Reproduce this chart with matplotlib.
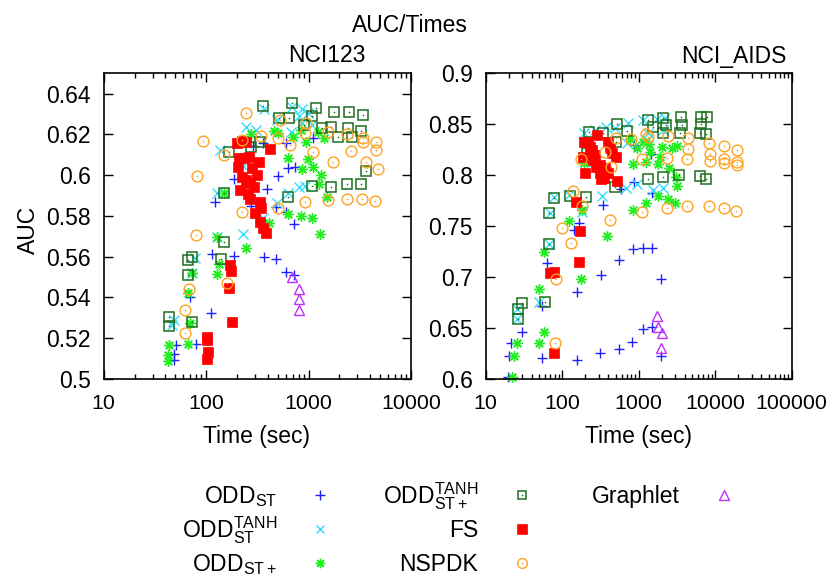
import matplotlib
matplotlib.use('Agg')
import matplotlib.pyplot as plt
from matplotlib.ticker import FixedLocator, LogLocator, NullFormatter, FuncFormatter

plt.rcParams['font.family'] = ['Liberation Sans', 'DejaVu Sans']
plt.rcParams['mathtext.fontset'] = 'custom'
plt.rcParams['mathtext.rm'] = 'Liberation Sans'
plt.rcParams['mathtext.it'] = 'Liberation Sans'
plt.rcParams['mathtext.bf'] = 'Liberation Sans:bold'

# ---------------- data: NCI123 ----------------
n123_st_t = [51, 49, 49, 80, 112, 70, 72, 114, 185, 122, 185, 275, 396, 508, 636, 739, 599, 362,
             1116, 604, 722, 371, 482, 599, 728, 478, 285]
n123_st_auc = [0.5167, 0.5123, 0.5093, 0.517, 0.5325, 0.5404, 0.5522, 0.5612, 0.5605, 0.5867, 0.5981,
               0.5849, 0.5931, 0.5996, 0.6034, 0.6039, 0.6156, 0.6156, 0.6181, 0.5821, 0.5761, 0.5597,
               0.5589, 0.5523, 0.551, 0.5846, 0.6145]

n123_tanh_t = [49, 46, 77, 72, 127, 137, 127, 228, 244, 308, 371, 489, 489, 636, 815, 925, 685, 859,
               809, 997, 1083, 871, 670, 357, 231]
n123_tanh_auc = [0.529, 0.5265, 0.5595, 0.5518, 0.5914, 0.6124, 0.5698, 0.571, 0.6238, 0.6221, 0.6323,
                 0.6271, 0.5862, 0.5911, 0.5944, 0.5947, 0.6336, 0.6323, 0.629, 0.6304, 0.6247, 0.6258,
                 0.6214, 0.5788, 0.6047]

n123_stp_t = [43.5, 42.8, 42.2, 67, 69, 67, 72, 127, 129, 134, 244, 273, 460, 508, 636, 711, 845, 939,
              997, 1116, 859, 1326, 1267, 1529, 636, 845, 1092, 1297, 412, 1248, 1429, 150]
n123_stp_auc = [0.5165, 0.5118, 0.509, 0.517, 0.5273, 0.542, 0.5522, 0.5698, 0.5515, 0.5564, 0.5641,
                0.6202, 0.6218, 0.6209, 0.6086, 0.6189, 0.6221, 0.6165, 0.6078, 0.6042, 0.6029, 0.6001,
                0.5957, 0.5895, 0.581, 0.5801, 0.5788, 0.571, 0.5767, 0.6214, 0.6181, 0.5914]

n123_stpt_t = [43.8, 43.5, 72, 66, 72, 66, 141, 150, 150, 168, 275, 337, 362, 516, 646, 695, 912, 1092,
               1176, 1346, 1660, 1790, 1959, 2416, 2509, 2641, 3258, 3381, 3620, 3258, 2382, 1660, 1083, 636]
n123_stpt_auc = [0.5306, 0.5262, 0.5281, 0.5582, 0.56, 0.551, 0.5589, 0.5674, 0.5914, 0.6115, 0.614,
                 0.6161, 0.634, 0.6282, 0.6282, 0.6353, 0.6247, 0.629, 0.6328, 0.6233, 0.6238, 0.6312,
                 0.6189, 0.623, 0.6312, 0.6189, 0.6218, 0.6295, 0.6022, 0.5957, 0.5955, 0.5944, 0.5947, 0.5895]

n123_fs_t = [101, 101, 104, 101, 179, 166, 175, 171, 199, 223, 246, 421, 211, 236, 263, 326, 204, 279,
             312, 226, 246, 269, 296, 214, 255, 270, 337, 344, 301, 337, 362, 385]
n123_fs_auc = [0.5208, 0.5191, 0.5134, 0.5096, 0.5281, 0.5445, 0.5532, 0.5559, 0.616, 0.6168, 0.6165,
               0.6129, 0.6083, 0.6083, 0.6091, 0.6063, 0.6042, 0.6034, 0.6001, 0.5993, 0.5976, 0.596,
               0.594, 0.5927, 0.5908, 0.5882, 0.587, 0.5841, 0.5813, 0.5772, 0.5743, 0.5718]

n123_nspdk_t = [94, 82, 80, 62, 62, 68, 159, 150, 223, 223, 246, 344, 527, 500, 661, 508, 925, 939, 925,
                1099, 1540, 1563, 1750, 2361, 2361, 2600, 3381, 3381, 3357, 3647, 4530, 4530, 4808, 4500]
n123_nspdk_auc = [0.6168, 0.5994, 0.5708, 0.5339, 0.5227, 0.544, 0.5473, 0.6099, 0.6173, 0.5818, 0.6304,
                  0.6194, 0.6271, 0.6181, 0.6148, 0.5841, 0.5868, 0.6254, 0.6205, 0.6115, 0.5878, 0.6214,
                  0.6066, 0.6202, 0.5883, 0.6119, 0.6165, 0.6184, 0.5883, 0.6066, 0.6161, 0.6124, 0.603, 0.5873]

n123_graphlet_t = [685, 809, 809, 809]
n123_graphlet_auc = [0.5499, 0.544, 0.5393, 0.5339]

# ---------------- data: NCI_AIDS ----------------
aids_st_t = [19.8, 20.2, 21.2, 30.1, 55, 64, 55, 155, 158, 144, 168, 318, 312, 558, 558, 826, 834, 1150,
             1150, 1509, 1509, 1941, 1941, 339, 580, 869, 1509, 1449, 877]
aids_st_auc = [0.6023, 0.6226, 0.635, 0.6465, 0.6716, 0.7142, 0.6203, 0.6186, 0.685, 0.7462, 0.7528,
               0.702, 0.6252, 0.7168, 0.6291, 0.6366, 0.7272, 0.6487, 0.7289, 0.7289, 0.6514, 0.6978,
               0.6226, 0.7708, 0.7861, 0.793, 0.7822, 0.8208, 0.8296]

aids_tanh_t = [25.9, 25.4, 50, 68, 69, 78, 124, 180, 335, 676, 942, 1555, 2056, 193, 269, 374, 491, 733,
               1150, 1718, 2208, 2100, 1337, 697, 1273, 199]
aids_tanh_auc = [0.6589, 0.6687, 0.6759, 0.7325, 0.7626, 0.7783, 0.7806, 0.7642, 0.7796, 0.7871, 0.7914,
                 0.7855, 0.7871, 0.8411, 0.8444, 0.8476, 0.846, 0.8509, 0.8542, 0.8548, 0.8558, 0.8444,
                 0.8411, 0.8313, 0.8345, 0.8133]

aids_stp_t = [22.3, 23.5, 25.4, 50, 58, 50, 58, 124, 176, 180, 381, 851, 1233, 1807, 2438, 2979, 3139,
              851, 1247, 1807, 2518, 1901, 1406, 1377, 1150, 942, 771, 1995, 2700, 3199, 3076, 195]
aids_stp_auc = [0.6023, 0.6226, 0.635, 0.635, 0.6465, 0.688, 0.725, 0.755, 0.6978, 0.7658, 0.7403,
                0.7658, 0.773, 0.7796, 0.7763, 0.7724, 0.7897, 0.811, 0.8133, 0.811, 0.8074, 0.8175,
                0.8231, 0.8306, 0.8329, 0.8264, 0.8352, 0.828, 0.8264, 0.8287, 0.7986, 0.8116]

aids_stpt_t = [26.7, 26.7, 29.6, 60, 68, 68, 79, 127, 205, 224, 345, 526, 697, 505, 209, 491, 1337, 2056,
               3398, 6340, 7590, 1337, 1524, 2100, 2254, 2056, 3573, 3648, 3468, 6460, 7744, 6530, 6340, 7590]
aids_stpt_auc = [0.6586, 0.6687, 0.6749, 0.6759, 0.7325, 0.7626, 0.7773, 0.7799, 0.7783, 0.8421, 0.8411,
                 0.8499, 0.8437, 0.8329, 0.8215, 0.7887, 0.7963, 0.7986, 0.8002, 0.7992, 0.7959, 0.8542,
                 0.847, 0.8558, 0.8493, 0.8411, 0.8568, 0.8493, 0.8417, 0.8574, 0.8574, 0.8502, 0.8417, 0.8404]

aids_fs_t = [78, 69, 77, 168, 171, 152, 199, 189, 193, 220, 283, 243, 255, 277, 312, 352, 318, 401, 393,
             422, 443, 505, 516, 231, 269, 312, 363]
aids_fs_auc = [0.6258, 0.7037, 0.7053, 0.7151, 0.7452, 0.774, 0.8025, 0.8182, 0.8329, 0.8329, 0.8394,
               0.8247, 0.8149, 0.8077, 0.8025, 0.7969, 0.796, 0.8018, 0.8329, 0.8264, 0.8215, 0.8182,
               0.7946, 0.828, 0.8198, 0.81, 0.8067]

aids_nspdk_t = [81, 83, 98.5, 129, 137, 180, 422, 434, 367, 175, 505, 795, 1095, 1095, 1247, 1311, 2322,
                2322, 2438, 4240, 4325, 4457, 4457, 8380, 8555, 8555, 8380, 13150, 13150, 13150, 13150,
                19100, 19100, 19100, 18700]
aids_nspdk_auc = [0.635, 0.6978, 0.7479, 0.7331, 0.7848, 0.7698, 0.756, 0.8084, 0.8231, 0.8156, 0.8368,
                  0.8352, 0.8156, 0.7642, 0.8401, 0.8372, 0.7681, 0.8166, 0.8385, 0.7698, 0.8156, 0.8362,
                  0.8257, 0.8313, 0.8208, 0.8143, 0.7698, 0.7681, 0.829, 0.8156, 0.8116, 0.8247, 0.8133,
                  0.81, 0.7649]

aids_graphlet_t = [1754, 1807, 2000, 1941]
aids_graphlet_auc = [0.6618, 0.6514, 0.6455, 0.6307]

series_labels = [r'$\mathregular{ODD_{ST}}$', r'$\mathregular{ODD_{ST}^{TANH}}$',
                 r'$\mathregular{ODD_{ST+}}$', r'$\mathregular{ODD_{ST+}^{TANH}}$',
                 'FS', 'NSPDK', 'Graphlet']

left_x_ticks = [10, 100, 1000, 10000]
right_x_ticks = [10, 100, 1000, 10000, 100000]
left_y_ticks = [0.5, 0.52, 0.54, 0.56, 0.58, 0.6, 0.62, 0.64]
right_y_ticks = [0.6, 0.65, 0.7, 0.75, 0.8, 0.85, 0.9]

# ---------------- styles ----------------
FSZ = 16.5
XFSZ = 15.4
W, H = 828, 578
styles = [
    dict(marker='+', color='#1f1fff', ms=7.5, mew=1.0, mfc='none', dot=False),
    dict(marker='x', color='#33ddff', ms=6.5, mew=1.0, mfc='none', dot=False),
    dict(marker=(8, 2, 0), color='#22ee22', ms=7.5, mew=1.0, mfc='none', dot=False),
    dict(marker='s', color='#1e6e1e', ms=6.8, mew=1.1, mfc='none', dot=True),
    dict(marker='s', color='#ff0000', ms=7.3, mew=0.5, mfc='#ff0000', dot=False),
    dict(marker='o', color='#ffa320', ms=7.8, mew=1.0, mfc='none', dot=True),
    dict(marker='^', color='#c030ff', ms=7.5, mew=1.0, mfc='none', dot=False),
]

fig = plt.figure(figsize=(W / 100, H / 100), dpi=100)


def fx(x):
    return x / W


def fy(y):
    return 1 - y / H


def draw_series(ax, t, a, st):
    ax.plot(t, a, linestyle='none', marker=st['marker'], ms=st['ms'], mew=st['mew'],
            mec=st['color'], mfc=st['mfc'], clip_on=False)
    if st['dot']:
        ax.plot(t, a, linestyle='none', marker='o', ms=1.2, mew=0, mfc=st['color'], clip_on=False)


def setup_axes(ax, xlim, ylim, xticks, yticks):
    ax.set_xscale('log')
    ax.set_xlim(*xlim)
    ax.set_ylim(*ylim)
    ax.xaxis.set_major_locator(FixedLocator(xticks))
    ax.xaxis.set_major_formatter(FuncFormatter(lambda v, p: '%d' % round(v)))
    ax.xaxis.set_minor_locator(LogLocator(base=10, subs=range(2, 10), numticks=20))
    ax.xaxis.set_minor_formatter(NullFormatter())
    ax.yaxis.set_major_locator(FixedLocator(yticks))
    ax.yaxis.set_major_formatter(FuncFormatter(lambda v, p: '%g' % round(v, 3)))
    ax.tick_params(which='both', direction='in', top=True, right=True,
                   width=1.0, color='black')
    ax.tick_params(axis='y', labelsize=FSZ)
    ax.tick_params(axis='x', labelsize=XFSZ)
    ax.tick_params(which='major', length=6.5, pad=9.5)
    ax.tick_params(axis='x', which='major', pad=10.5)
    ax.tick_params(which='minor', length=3.5)
    for s in ax.spines.values():
        s.set_linewidth(1.2)


ax1 = fig.add_axes([fx(103.7), fy(379), (411 - 103.7) / W, (379 - 73.3) / H])
ax2 = fig.add_axes([fx(485.7), fy(379), (791.7 - 485.7) / W, (379 - 73.3) / H])

left_data = [(n123_st_t, n123_st_auc), (n123_tanh_t, n123_tanh_auc), (n123_stp_t, n123_stp_auc),
             (n123_stpt_t, n123_stpt_auc), (n123_fs_t, n123_fs_auc), (n123_nspdk_t, n123_nspdk_auc),
             (n123_graphlet_t, n123_graphlet_auc)]
right_data = [(aids_st_t, aids_st_auc), (aids_tanh_t, aids_tanh_auc), (aids_stp_t, aids_stp_auc),
              (aids_stpt_t, aids_stpt_auc), (aids_fs_t, aids_fs_auc), (aids_nspdk_t, aids_nspdk_auc),
              (aids_graphlet_t, aids_graphlet_auc)]

for (t, a), st in zip(left_data, styles):
    draw_series(ax1, t, a, st)
for (t, a), st in zip(right_data, styles):
    draw_series(ax2, t, a, st)

setup_axes(ax1, (10, 10000), (0.5, 0.65), left_x_ticks, left_y_ticks)
setup_axes(ax2, (10, 100000), (0.6, 0.9), right_x_ticks, right_y_ticks)

# texts
fig.text(fx(410), fy(26), 'AUC/Times', ha='center', va='center', fontsize=FSZ)
fig.text(fx(327), fy(56), 'NCI123', ha='center', va='center', fontsize=FSZ)
fig.text(fx(734), fy(56), 'NCI_AIDS', ha='center', va='center', fontsize=FSZ)
fig.text(fx(28), fy(230), 'AUC', ha='center', va='center', rotation=90, fontsize=FSZ)
fig.text(fx(257), fy(437), 'Time (sec)', ha='center', va='center', fontsize=FSZ)
fig.text(fx(639), fy(437), 'Time (sec)', ha='center', va='center', fontsize=FSZ)

# legend (key) drawn in figure pixel space
lax = fig.add_axes([0, 0, 1, 1])
lax.set_xlim(0, W)
lax.set_ylim(H, 0)
lax.axis('off')
col_label_x = [277, 478, 680]
col_mark_x = [320, 522, 724]
row_y = [495, 529, 563]
for i, (lab, st) in enumerate(zip(series_labels, styles)):
    c, r = divmod(i, 3)
    ty = row_y[r]
    lax.text(col_label_x[c], ty + 8, lab, ha='right', va='baseline', fontsize=FSZ)
    lax.plot([col_mark_x[c]], [ty], linestyle='none', marker=st['marker'], ms=st['ms'] * 0.9,
             mew=st['mew'], mec=st['color'], mfc=st['mfc'])
    if st['dot']:
        lax.plot([col_mark_x[c]], [ty], linestyle='none', marker='o', ms=1.2, mew=0, mfc=st['color'])

fig.savefig('out.png', dpi=100)
